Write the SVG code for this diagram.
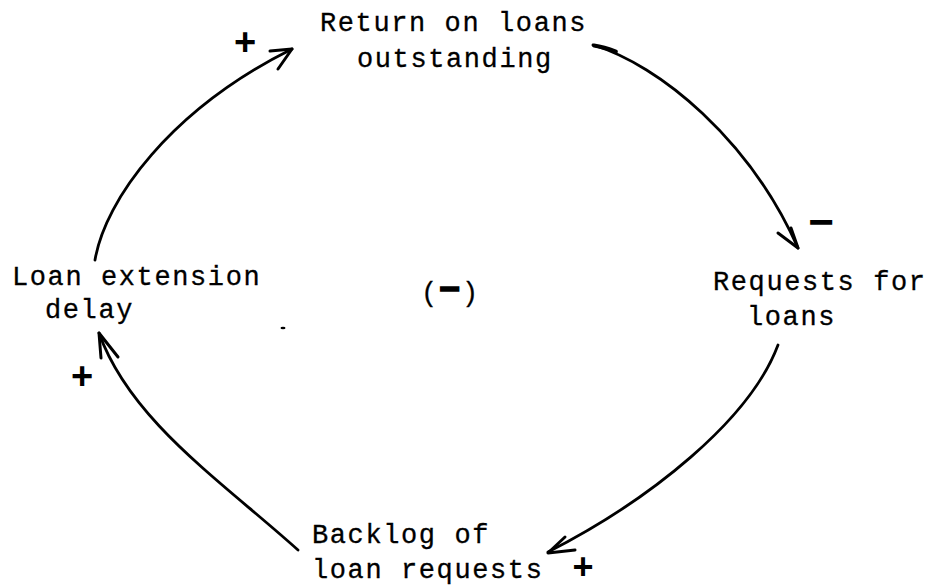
<svg xmlns="http://www.w3.org/2000/svg" width="931" height="588" viewBox="0 0 931 588">
  <style>
    .lbl { font-family: "Liberation Mono", "DejaVu Sans Mono", monospace; font-size: 27px; letter-spacing: 1.6px; fill: #000; stroke: #000; stroke-width: 0.3px; }
    .link { fill: none; stroke: #000; stroke-width: 2.8; stroke-linecap: round; stroke-linejoin: round; }
    .head { fill: none; stroke: #000; stroke-width: 3; stroke-linecap: round; stroke-linejoin: round; }
    .sign { font-family: "Liberation Sans", Arial, sans-serif; font-weight: bold; fill: #000; text-anchor: middle; }
  </style>
  <rect width="931" height="588" fill="#fff"/>

  <!-- causal links -->
  <g id="connectors">
    <!-- delay -> return -->
    <path class="link" d="M95,260 C105,200 170,110 292,49"/>
    <path class="head" d="M270,51 L292,49 L278,69"/>
    <!-- return -> requests (pen starts heavy) -->
    <path class="link" d="M593,45 C660,65 750,140 798,248"/>
    <path d="M594,45.5 Q604,47 616,51.5" fill="none" stroke="#000" stroke-width="3.8" stroke-linecap="round"/>
    <path class="head" d="M778,233 L798,248 L791,228"/>
    <!-- requests -> backlog -->
    <path class="link" d="M778,345 C750,420 650,500 548,552"/>
    <path class="head" d="M565,537 L548,553 L575,550"/>
    <!-- backlog -> delay -->
    <path class="link" d="M298,550 C220,480 130,420 99,333"/>
    <path class="head" d="M118,357 L99,333 L101,358"/>
  </g>

  <!-- link polarities -->
  <g id="polarities">
    <text class="sign" x="245" y="55" font-size="38">+</text>
    <text class="sign" x="821" y="237" font-size="44">−</text>
    <text class="sign" x="583" y="579" font-size="36">+</text>
    <text class="sign" x="82" y="389" font-size="38">+</text>
  </g>

  <g id="node-return">
    <text class="lbl" x="320" y="31">Return on loans</text>
    <text class="lbl" x="357" y="67">outstanding</text>
  </g>
  <g id="node-requests">
    <text class="lbl" x="713" y="290">Requests for</text>
    <text class="lbl" x="747" y="325">loans</text>
  </g>
  <g id="node-backlog">
    <text class="lbl" x="312" y="543">Backlog of</text>
    <text class="lbl" x="312" y="578">loan requests</text>
  </g>
  <g id="node-delay">
    <text class="lbl" x="12" y="285">Loan extension</text>
    <text class="lbl" x="45" y="318">delay</text>
  </g>

  <!-- loop polarity -->
  <g id="loop-sign">
    <text class="lbl" x="421" y="301">(<tspan font-size="36px" font-weight="bold" stroke-width="1.4">−</tspan>)</text>
  </g>
  <ellipse cx="283" cy="328" rx="2.5" ry="1.2" fill="#000"/>
</svg>
